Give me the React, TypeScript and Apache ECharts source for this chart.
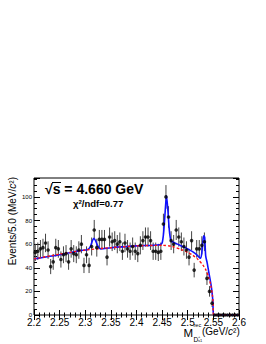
import React, { useEffect, useRef } from "react";
import * as echarts from "echarts";

// Histogram: 80 bins of 5 MeV from 2.2 to 2.6 GeV/c^2
const BIN_START = 2.2;
const BIN_WIDTH = 0.005;
const counts = [
  53, 54, 56, 57, 61, 55, 41, 45, 57, 56,
  47, 51, 52, 45, 56, 52, 51, 55, 60, 42,
  51, 42, 58, 72, 57, 64, 64, 64, 49, 66,
  62, 63, 60, 62, 54, 61, 56, 54, 58, 54,
  52, 59, 63, 66, 66, 63, 54, 54, 53, 54,
  77, 100, 83, 63, 60, 72, 66, 62, 58, 55,
  49, 63, 38, 56, 56, 59, 62, 31, 20, 10,
  0, 0, 0, 0, 0, 0, 0, 0, 0, 0,
];

// Total fit (blue solid)
const totalM = [2.2, 2.25, 2.29, 2.305, 2.31, 2.314, 2.317, 2.32, 2.325, 2.33, 2.35, 2.4, 2.445, 2.45, 2.453, 2.456, 2.4585, 2.461, 2.464, 2.467, 2.47, 2.48, 2.5, 2.515, 2.525, 2.528, 2.531, 2.533, 2.535, 2.538, 2.542, 2.546, 2.549, 2.5505, 2.6];
const totalV = [47.5, 51, 54.5, 55.5, 58, 63, 65, 63, 58, 56, 57, 58.5, 59.5, 61, 70, 88, 101, 90, 72, 63, 62, 60, 56, 52, 48, 55, 67, 66, 50, 44, 34, 24, 12, 0, 0];

// Background fit (red dashed)
const bkgM = [2.2, 2.25, 2.3, 2.35, 2.4, 2.45, 2.47, 2.49, 2.5, 2.51, 2.52, 2.53, 2.535, 2.54, 2.545, 2.548, 2.5495, 2.55, 2.6];
const bkgV = [47.5, 51.5, 55, 57, 58.5, 59, 58, 55, 53, 50.5, 47, 42, 38.5, 33, 25, 17, 10, 0, 0];

const X_MIN = 2.2, X_MAX = 2.6, X_STEP = 0.05;
const Y_MIN = 0, Y_MAX = 116, Y_STEP = 20;

const FONT = "'Liberation Sans', Arial, Helvetica, sans-serif";

export default function App() {
  const ref = useRef<HTMLDivElement>(null);
  useEffect(() => {
    if (!ref.current) return;
    const chart = echarts.init(ref.current, undefined, { renderer: "svg" });
    const points = counts.map((c, i) => [BIN_START + (i + 0.5) * BIN_WIDTH, c]);
    const fmtX = (v: number) => String(Math.round(v * 100) / 100);
    const fmtY = (v: number) => (Math.abs(v % Y_STEP) < 1e-6 ? String(v) : "");
    const xCommon = {
      type: "value",
      min: X_MIN,
      max: X_MAX,
      interval: X_STEP,
      axisLine: { show: false },
      axisTick: { show: true, inside: true, length: 5, lineStyle: { color: "#000", width: 1 } },
      minorTick: { show: true, splitNumber: 5, length: 2.5, lineStyle: { color: "#000", width: 1 } },
      splitLine: { show: false },
      minorSplitLine: { show: false },
    };
    const yCommon = {
      type: "value",
      min: Y_MIN,
      max: Y_MAX,
      interval: Y_STEP,
      axisLine: { show: false },
      axisTick: { show: true, inside: true, length: 6, lineStyle: { color: "#000", width: 1 } },
      minorTick: { show: true, splitNumber: 4, length: 3, lineStyle: { color: "#000", width: 1 } },
      splitLine: { show: false },
      minorSplitLine: { show: false },
    };
    chart.setOption({
      animation: false,
      backgroundColor: "#fff",
      grid: { left: 34, top: 178, width: 205, height: 137, show: true, borderColor: "#000", borderWidth: 1, backgroundColor: "transparent" },
      xAxis: [
        { ...xCommon, position: "bottom", axisLabel: { show: true, fontSize: 10, color: "#000", fontFamily: FONT, margin: 2, formatter: fmtX } },
        { ...xCommon, position: "top", axisLabel: { show: false } },
      ],
      yAxis: [
        { ...yCommon, position: "left", axisLabel: { show: true, fontSize: 6, color: "#000", fontFamily: FONT, margin: 2, formatter: fmtY } },
        { ...yCommon, position: "right", axisLabel: { show: false } },
      ],
      series: [
        {
          type: "custom",
          xAxisIndex: 0,
          yAxisIndex: 0,
          data: points,
          z: 2,
          renderItem: (params: any, api: any) => {
            const x = api.value(0);
            const v = api.value(1);
            const e = Math.sqrt(v);
            if (e <= 0) return null;
            const p1 = api.coord([x, v - e]);
            const p2 = api.coord([x, v + e]);
            return {
              type: "line",
              shape: { x1: p1[0], y1: p1[1], x2: p2[0], y2: p2[1] },
              style: { stroke: "#444", lineWidth: 1 },
            };
          },
        },
        {
          type: "line",
          data: totalM.map((m, i) => [m, totalV[i]]),
          showSymbol: false,
          smooth: 0.25,
          lineStyle: { color: "#1010ff", width: 1.6 },
          z: 3,
        },
        {
          type: "line",
          data: bkgM.map((m, i) => [m, bkgV[i]]),
          showSymbol: false,
          smooth: 0.25,
          lineStyle: { color: "#ff1010", width: 1.4, type: [2.5, 2] },
          z: 4,
        },
        {
          type: "scatter",
          data: points,
          symbol: "circle",
          symbolSize: 3.6,
          itemStyle: { color: "#000" },
          z: 5,
        },
      ],
      graphic: [
        {
          type: "text",
          x: 45,
          y: 189,
          style: { text: "√s = 4.660 GeV", font: `bold 14px ${FONT}`, fill: "#000", verticalAlign: "middle", align: "left" },
        },
        {
          type: "line",
          shape: { x1: 52, y1: 182.5, x2: 61, y2: 182.5 },
          style: { stroke: "#000", lineWidth: 1 },
        },
        {
          type: "text",
          x: 73,
          y: 203.5,
          style: {
            text: "{a|χ}{s|2}{a|/ndf=0.77}",
            verticalAlign: "middle",
            rich: {
              a: { font: `bold 9.5px ${FONT}`, fill: "#000" },
              s: { font: `bold 6px ${FONT}`, fill: "#000", verticalAlign: "top", padding: [0, 0, 4, 0] },
            },
          },
        },
        {
          type: "text",
          x: 12,
          y: 177,
          rotation: Math.PI / 2,
          style: {
            text: "{n|Events/5.0 (MeV/}{i|c}{n|²)}",
            align: "right",
            verticalAlign: "middle",
            rich: {
              n: { font: `10px ${FONT}`, fill: "#000" },
              i: { font: `italic 10px ${FONT}`, fill: "#000" },
            },
          },
        },
        { type: "text", x: 183.5, y: 333, style: { text: "M", font: `11.5px ${FONT}`, fill: "#000", verticalAlign: "middle" } },
        { type: "text", x: 193.5, y: 325, style: { text: "rec", font: `5.5px ${FONT}`, fill: "#000", verticalAlign: "middle" } },
        { type: "text", x: 193.5, y: 339, style: { text: "D", font: `6.5px ${FONT}`, fill: "#000", verticalAlign: "middle" } },
        { type: "text", x: 198, y: 340.5, style: { text: "s1", font: `4px ${FONT}`, fill: "#000", verticalAlign: "middle" } },
        { type: "text", x: 198, y: 336.5, style: { text: "+", font: `4px ${FONT}`, fill: "#000", verticalAlign: "middle" } },
        {
          type: "text",
          x: 202,
          y: 331.5,
          style: {
            text: "{n|(GeV/}{i|c}{n|²)}",
            verticalAlign: "middle",
            rich: {
              n: { font: `10px ${FONT}`, fill: "#000" },
              i: { font: `italic 10px ${FONT}`, fill: "#000" },
            },
          },
        },
      ],
    });
    return () => chart.dispose();
  }, []);
  return (
    <div
      ref={ref}
      style={{ position: "fixed", left: 0, top: 0, width: 266, height: 344, background: "#fff" }}
    />
  );
}
